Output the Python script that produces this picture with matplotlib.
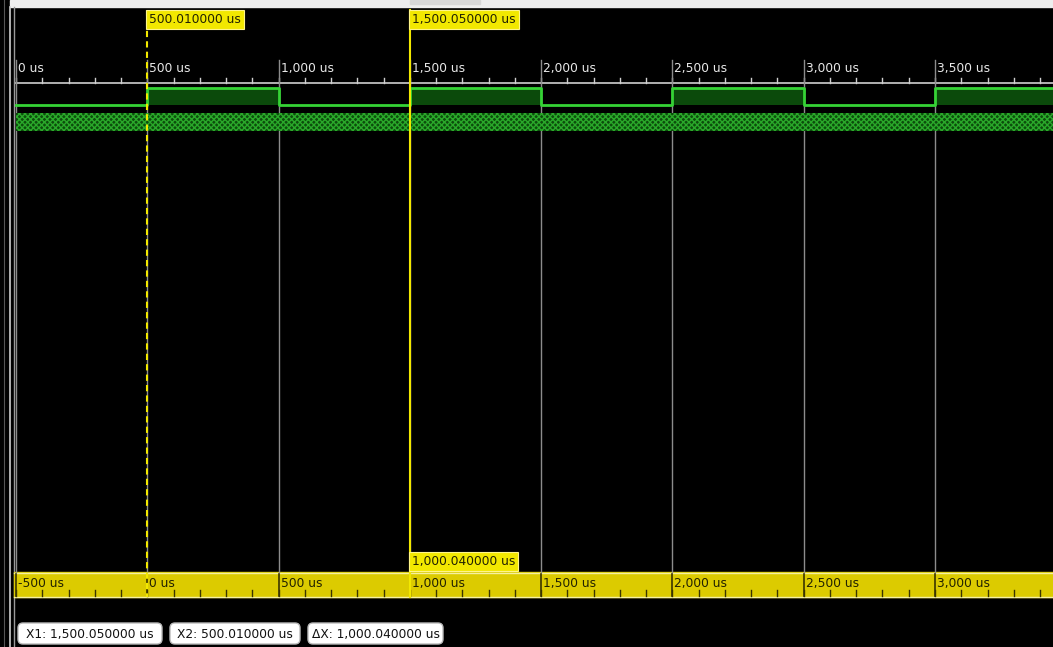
import matplotlib
matplotlib.use("Agg")
import matplotlib.pyplot as plt
from matplotlib.patches import Rectangle, FancyBboxPatch

# signal: edge times (us) and level after each edge
edges = [0, 500, 1000, 1500, 2000, 2500, 3000, 3500, 3950]
levels = [0, 1, 0, 1, 0, 1, 0, 1]
x1 = 1500.05
x2 = 500.01
major = [0, 500, 1000, 1500, 2000, 2500, 3000, 3500]
minor = list(range(0, 4000, 100))
rel_major = [-500, 0, 500, 1000, 1500, 2000, 2500, 3000]
cursor_labels = ["X1: 1,500.050000 us", "X2: 500.010000 us", "ΔX: 1,000.040000 us"]

W, H = 1053, 647
px_per_us = 0.26257
x0px = 16
fs = 8.8

fig = plt.figure(figsize=(W / 100, H / 100), dpi=100, facecolor="black")
frame = fig.add_axes([0, 0, 1, 1])
frame.set_xlim(0, W)
frame.set_ylim(H, 0)
frame.axis("off")
ax = fig.add_axes([0, 0, 1, 1], facecolor="none")
ax.set_xlim(-x0px / px_per_us, (W - x0px) / px_per_us)
ax.set_ylim(H, 0)
ax.axis("off")

# window chrome
frame.add_patch(Rectangle((10, 0), W, 7, color="#eeeeee", zorder=1))
frame.add_patch(Rectangle((410, 0), 70, 4, color="#d8d8d8", zorder=1))
frame.plot([10, 10], [7, H], color="#cfcfcf", lw=1.2)
frame.plot([4, 4], [0, H], color="#555555", lw=0.8)
frame.plot([14, 14], [7, H], color="#9a9a9a", lw=1)

yellow = "#f2e800"
band = "#dccb00"
green = "#35d335"

# top ruler
ax.plot([0, 3950], [83, 83], color="#cfcfcf", lw=1.2)
for m in minor:
    ax.plot([m, m], [78, 83], color="#cfcfcf", lw=1)
for m in major:
    ax.plot([m, m], [60, 572], color="#8c8c8c", lw=1, zorder=2)
    ax.annotate(f"{m:,} us", xy=(m, 72), xytext=(2, 0), textcoords="offset pixels",
                color="#e8e8e8", fontsize=fs, va="baseline", ha="left")

# waveform
for i, lv in enumerate(levels):
    a, b = edges[i], edges[i + 1]
    if lv:
        ax.fill_between([a, b], 88, 105, color="#0b4a0b", lw=0, zorder=3)
xs, ys = [], []
for i, lv in enumerate(levels):
    y = 88 if lv else 105
    xs += [edges[i], edges[i + 1]]
    ys += [y, y]
ax.plot(xs, ys, color=green, lw=2, zorder=4)
ax.fill_between([0, 3950], 113, 131, facecolor="#0c4d0c", edgecolor="#2aa82a",
                hatch="xxxxxx", lw=0, zorder=3)

# bottom ruler (relative to X2)
frame.add_patch(Rectangle((14, 572), W, 25, color=band, zorder=5))
frame.plot([14, W], [572.5, 572.5], color="#f5f0a0", lw=1, zorder=6)
frame.plot([14, W], [597, 597], color="#f5f0a0", lw=1, zorder=6)
for r in range(-500, 3500, 100):
    t = r + x2
    ax.plot([t, t], [590, 596], color="#3a3500", lw=1, zorder=6)
for r in rel_major:
    t = r + x2
    ax.plot([t, t], [574, 596], color="#3a3500", lw=1.2, zorder=6)
    ax.annotate(f"{r:,} us", xy=(t, 587), xytext=(2, 0), textcoords="offset pixels",
                color="#222200", fontsize=fs, va="baseline", ha="left", zorder=7)

# cursors
ax.plot([x2, x2], [10, 597], color=yellow, lw=1.5, ls=(0, (3, 2)), zorder=8)
ax.plot([x1, x1], [10, 597], color=yellow, lw=1.5, zorder=8)
box = dict(boxstyle="square,pad=0.25", fc=yellow, ec="#fff58a", lw=0.8)
ax.annotate("500.010000 us", xy=(x2, 23), xytext=(2, 0), textcoords="offset pixels",
            fontsize=fs, va="baseline", ha="left", color="#222200", bbox=box, zorder=9)
ax.annotate("1,500.050000 us", xy=(x1, 23), xytext=(2, 0), textcoords="offset pixels",
            fontsize=fs, va="baseline", ha="left", color="#222200", bbox=box, zorder=9)
ax.annotate("1,000.040000 us", xy=(x1, 565), xytext=(2, 0), textcoords="offset pixels",
            fontsize=fs, va="baseline", ha="left", color="#222200", bbox=box, zorder=9)

# cursor readouts
bx = [18, 170, 308]
bw = [144, 130, 135]
for x, w, s in zip(bx, bw, cursor_labels):
    frame.add_patch(FancyBboxPatch((x, 623), w, 21, boxstyle="round,pad=0,rounding_size=5",
                                   fc="white", ec="#bbbbbb", lw=1))
    frame.text(x + w / 2, 638, s, fontsize=fs, ha="center", va="baseline", color="#111111")

fig.savefig("out.png", dpi=100, facecolor="black")
